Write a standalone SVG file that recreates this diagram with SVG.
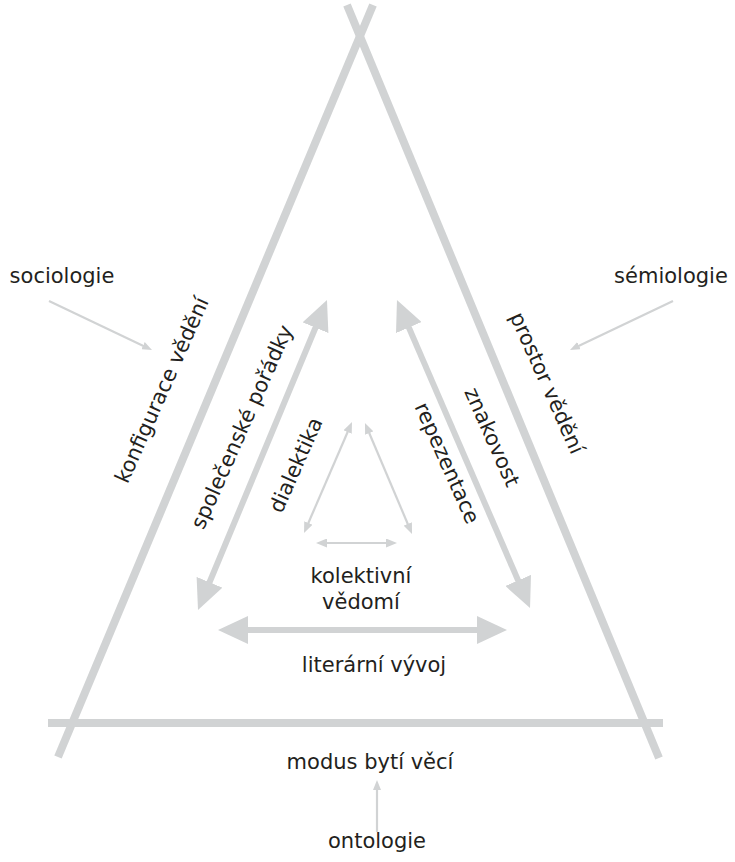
<svg xmlns="http://www.w3.org/2000/svg" width="735" height="862" viewBox="0 0 735 862">
<style>
  text { font-family: "DejaVu Sans", "Liberation Sans", sans-serif; font-size: 21px; fill: #231f20; text-anchor: middle; }
  .frame { stroke: #d1d3d4; stroke-width: 8; fill: none; stroke-linecap: butt; }
  .big { stroke: #d1d3d4; stroke-width: 6; fill: none; marker-start: url(#bigHead); marker-end: url(#bigHead); }
  .small { stroke: #d1d3d4; stroke-width: 2.2; fill: none; marker-start: url(#smallHead); marker-end: url(#smallHead); }
  .thin { stroke: #d1d3d4; stroke-width: 2.2; fill: none; marker-end: url(#thinHead); }
</style>
<defs>
  <marker id="bigHead" markerUnits="userSpaceOnUse" markerWidth="30" markerHeight="28" refX="10" refY="14" orient="auto-start-reverse" viewBox="0 0 30 28">
    <path d="M0,0 L30,14 L0,28 Z" fill="#d1d3d4"/>
  </marker>
  <marker id="smallHead" markerUnits="userSpaceOnUse" markerWidth="11" markerHeight="9" refX="5" refY="4.5" orient="auto-start-reverse" viewBox="0 0 11 9">
    <path d="M0,0 L11,4.5 L0,9 Z" fill="#d1d3d4"/>
  </marker>
  <marker id="thinHead" markerUnits="userSpaceOnUse" markerWidth="10" markerHeight="8" refX="4" refY="4" orient="auto" viewBox="0 0 10 8">
    <path d="M0,0 L10,4 L0,8 Z" fill="#d1d3d4"/>
  </marker>
</defs>

<g id="frame">
  <line class="frame" x1="373" y1="5" x2="58" y2="757"/>
  <line class="frame" x1="347" y1="5" x2="659" y2="758"/>
  <line class="frame" x1="48" y1="723" x2="663" y2="723"/>
</g>

<g id="connectors">
  <line class="big" x1="205.7" y1="591.5" x2="319.3" y2="318.5"/>
  <line class="big" x1="404.9" y1="318.4" x2="522.1" y2="589.6"/>
  <line class="big" x1="238" y1="630" x2="487" y2="630"/>
  <line class="small" x1="306.4" y1="527.5" x2="349.6" y2="427.5"/>
  <line class="small" x1="367.3" y1="428.5" x2="409.7" y2="528.5"/>
  <line class="small" x1="322" y1="543" x2="391" y2="543"/>
  <line class="thin" x1="49" y1="301" x2="146.6" y2="347.4"/>
  <line class="thin" x1="673" y1="301" x2="575.4" y2="347.4"/>
  <line class="thin" x1="377" y1="832" x2="377" y2="786"/>
</g>

<g id="sociologie"><text x="62" y="283">sociologie</text></g>
<g id="semiologie"><text x="671" y="283">sémiologie</text></g>
<g id="ontologie"><text x="377" y="848">ontologie</text></g>
<g id="modus"><text x="370" y="769">modus bytí věcí</text></g>
<g id="literarni-vyvoj"><text x="374" y="672">literární vývoj</text></g>
<g id="kolektivni-vedomi">
  <text x="361" y="583">kolektivní</text>
  <text x="361" y="609">vědomí</text>
</g>
<g id="konfigurace"><text transform="translate(162,390) rotate(-66)" y="7">konfigurace vědění</text></g>
<g id="spolecenske"><text transform="translate(242,427) rotate(-66)" y="7">společenské pořádky</text></g>
<g id="dialektika"><text transform="translate(296,465) rotate(-66)" y="7">dialektika</text></g>
<g id="prostor"><text transform="translate(547,383) rotate(66)" y="7">prostor vědění</text></g>
<g id="znakovost"><text transform="translate(492,437) rotate(66)" y="7">znakovost</text></g>
<g id="repezentace"><text transform="translate(447,463) rotate(66)" y="7">repezentace</text></g>
</svg>
